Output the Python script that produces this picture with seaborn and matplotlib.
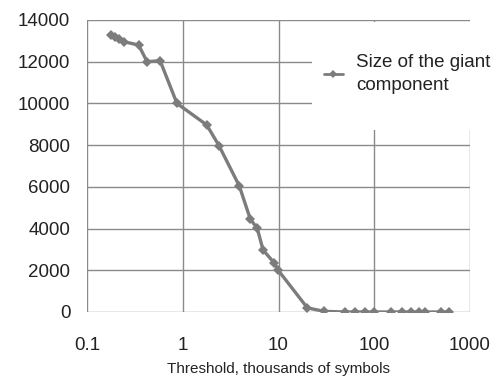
import matplotlib
matplotlib.use("Agg")
import matplotlib.pyplot as plt
import seaborn as sns
import pandas as pd
from matplotlib.patches import Rectangle
from matplotlib.ticker import FixedLocator, FixedFormatter, NullLocator

# Threshold (thousands of symbols) and size of the giant component
threshold = [0.176, 0.198, 0.214, 0.242, 0.346, 0.424, 0.58, 0.87, 1.78, 2.4,
             3.9, 5.07, 6.0, 6.9, 9.0, 9.9, 20, 30, 50, 63, 80, 100, 150, 195,
             240, 290, 340, 500, 610]
giant_size = [13280, 13170, 13075, 12960, 12800, 12000, 12050, 10000, 8970, 7960,
              6040, 4460, 4010, 2970, 2360, 2010, 200, 30, 0, 0, 0, 0, 0, 0,
              0, 0, 0, 0, 0]
series_label = "Size of the giant\ncomponent"
x_ticks = [0.1, 1, 10, 100, 1000]
x_tick_labels = ["0.1", "1", "10", "100", "1000"]
y_ticks = [0, 2000, 4000, 6000, 8000, 10000, 12000, 14000]

sns.set_theme(style="white")
plt.rcParams["font.family"] = ["Liberation Sans", "DejaVu Sans"]

df = pd.DataFrame({"threshold": threshold, "size": giant_size, "series": series_label})

W, H = 498, 379
fig = plt.figure(figsize=(W / 100, H / 100), dpi=100)
ax = fig.add_axes([87 / W, 1 - 312 / H, (470 - 87) / W, (312 - 20) / H])

grid_color = "#8a8a8a"
line_color = "#7c7c7c"

ax.set_xscale("log")
ax.set_xlim(0.1, 1000)
ax.set_ylim(0, 14000)

sns.lineplot(data=df, x="threshold", y="size", hue="series", palette=[line_color],
             marker="D", markersize=5, markeredgewidth=0, linewidth=2.4,
             ax=ax, zorder=3)

ax.xaxis.set_major_locator(FixedLocator(x_ticks))
ax.xaxis.set_major_formatter(FixedFormatter(x_tick_labels))
ax.xaxis.set_minor_locator(NullLocator())
ax.yaxis.set_major_locator(FixedLocator(y_ticks))
ax.yaxis.set_major_formatter(FixedFormatter([str(v) for v in y_ticks]))

ax.grid(True, which="major", axis="both", color=grid_color, linewidth=1.0)
for side in ["top", "right", "bottom", "left"]:
    ax.spines[side].set_visible(False)
ax.tick_params(axis="both", which="major", direction="out", length=5,
               color=grid_color, width=1.0, labelsize=13.5, labelcolor="#222222")
ax.tick_params(axis="x", pad=13)
ax.tick_params(axis="y", pad=7)

ax.set_xlabel("Threshold, thousands of symbols", fontsize=11, color="#222222",
              labelpad=6)
ax.set_ylabel("")

# White legend area sitting over the upper-right part of the grid
legend_bg = Rectangle((312 / W, 1 - 130 / H), (W - 312) / W, (130 - 22) / H,
                      transform=fig.transFigure, facecolor="white",
                      edgecolor="none", clip_on=False, zorder=4)
ax.add_artist(legend_bg)

leg = ax.legend(loc="upper left", bbox_to_anchor=(309 / W, 1 - 39 / H),
                bbox_transform=fig.transFigure, frameon=False, fontsize=13.5,
                handlelength=1.0, handletextpad=0.7, borderpad=0.3)
for t in leg.get_texts():
    t.set_color("#222222")
    t.set_linespacing(1.45)
for h in leg.legend_handles:
    h.set_linewidth(2.0)
    h.set_markersize(4)
leg.set_zorder(5)

fig.savefig("out.png", dpi=100)
